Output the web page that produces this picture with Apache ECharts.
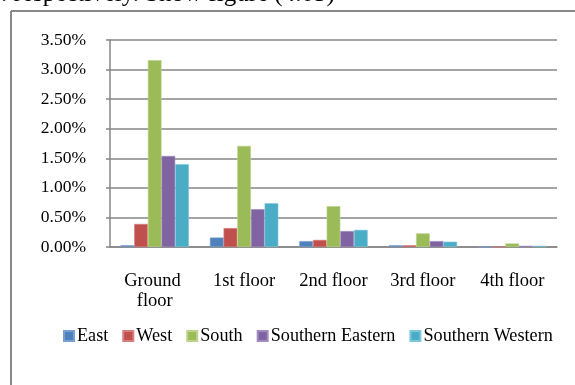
<!DOCTYPE html>
<html>
<head>
<meta charset="utf-8">
<script src="https://cdn.jsdelivr.net/npm/echarts@6/dist/echarts.min.js"></script>
<style>
html,body{margin:0;padding:0;background:#fff;}
#c{width:575px;height:385px;}
</style>
</head>
<body>
<div id="c"></div>
<script>
var categories = ['Ground floor', '1st floor', '2nd floor', '3rd floor', '4th floor'];
var seriesNames = ['East', 'West', 'South', 'Southern Eastern', 'Southern Western'];
var east = [0.03, 0.16, 0.10, 0.03, 0.00];
var west = [0.39, 0.32, 0.12, 0.03, 0.00];
var south = [3.16, 1.71, 0.69, 0.23, 0.06];
var southEastern = [1.54, 0.64, 0.27, 0.10, 0.02];
var southWestern = [1.40, 0.74, 0.29, 0.09, 0.02];
var colors = ['#4F81BD', '#C0504D', '#9BBB59', '#8064A2', '#4BACC6'];
var borders = ['#7A9FD0', '#D67C7A', '#BBD48A', '#A08CC0', '#7DC6DA'];

var chart = echarts.init(document.getElementById('c'), null, {renderer: 'canvas'});
var font = '"Liberation Serif", "Times New Roman", serif';
var values = [east, west, south, southEastern, southWestern];
var series = values.map(function (v, i) {
  return {
    name: seriesNames[i],
    type: 'bar',
    data: v,
    barGap: '0%',
    barCategoryGap: '23.5%',
    itemStyle: {color: colors[i], borderColor: borders[i], borderWidth: 0.6},
    emphasis: {disabled: true}
  };
});

chart.setOption({
  animation: false,
  color: colors,
  textStyle: {fontFamily: font},
  grid: {left: 110, right: 18, top: 40, bottom: 138, containLabel: false},
  legend: {
    left: 58, top: 322,
    itemWidth: 10, itemHeight: 10, itemGap: 14,
    icon: 'rect',
    textStyle: {fontFamily: font, fontSize: 18.2, color: '#000', padding: [0, 0, 0, -2]},
    data: seriesNames
  },
  xAxis: {
    type: 'category',
    data: categories,
    axisLine: {lineStyle: {color: '#868686', width: 1.5}},
    axisTick: {show: false},
    axisLabel: {
      fontFamily: font, fontSize: 18.5, color: '#000', margin: 24,
      lineHeight: 20, width: 80, overflow: 'break', interval: 0
    }
  },
  yAxis: {
    type: 'value',
    min: 0, max: 3.5, interval: 0.5,
    axisLine: {show: true, lineStyle: {color: '#868686', width: 1.5}},
    axisTick: {show: true, length: 4, lineStyle: {color: '#868686', width: 1.5}},
    splitLine: {lineStyle: {color: '#868686', width: 1.5}},
    axisLabel: {
      fontFamily: font, fontSize: 17.5, color: '#000', margin: 24,
      formatter: function (v) { return v.toFixed(2) + '%'; }
    }
  },
  graphic: [
    {type: 'text', left: 1, top: -18, style: {text: '. respectively. Show figure (4.05)', font: '25px ' + font, fill: '#000'}},
    {type: 'line', shape: {x1: 11, y1: 11, x2: 575, y2: 11}, style: {stroke: '#888', lineWidth: 2}},
    {type: 'line', shape: {x1: 11, y1: 11, x2: 11, y2: 385}, style: {stroke: '#888', lineWidth: 2}}
  ],
  series: series
});
</script>
</body>
</html>
